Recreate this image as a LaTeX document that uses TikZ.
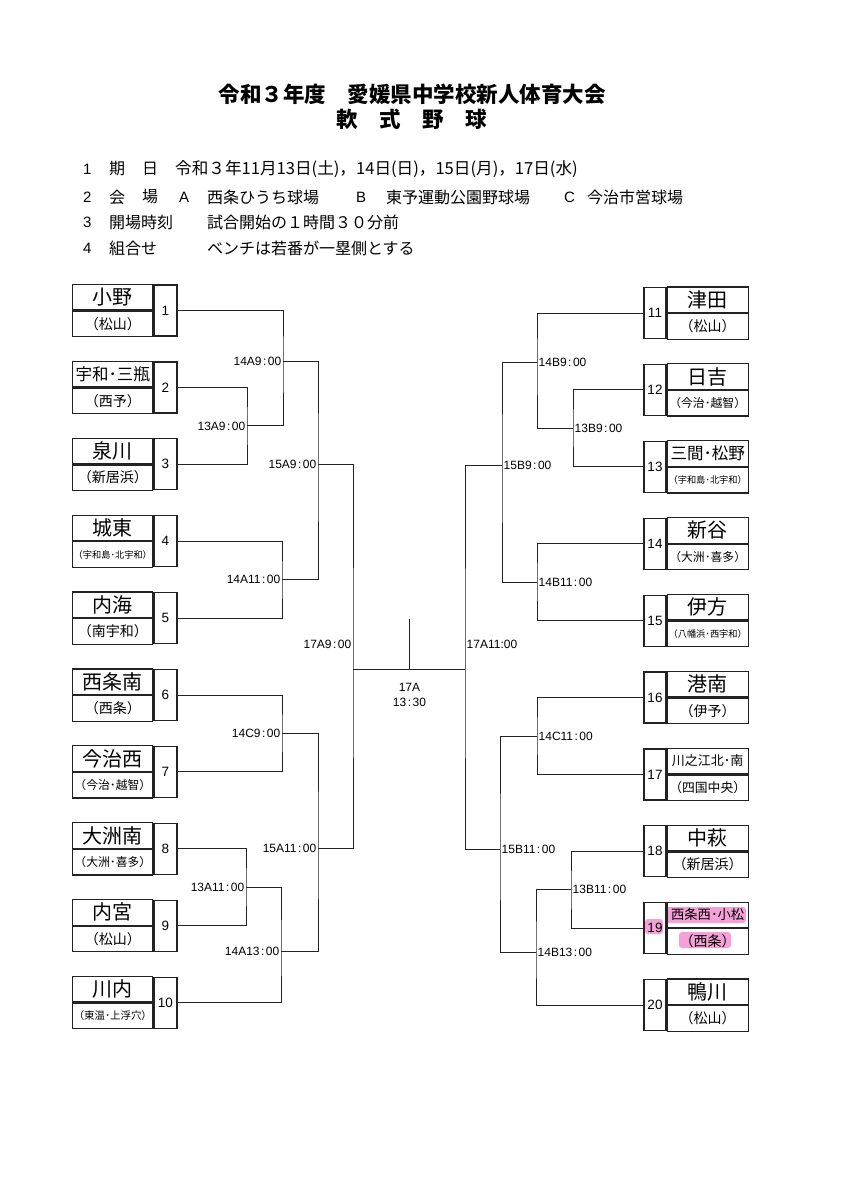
\documentclass[tikz,border=0pt]{standalone}
\usepackage{fontspec}
\setmainfont{Noto Sans CJK JP}
\newfontfamily\latin{Liberation Sans}
\usetikzlibrary{backgrounds}
\definecolor{ink}{RGB}{35,35,35}
\definecolor{marker}{RGB}{245,160,215}
\newcommand\fs[1]{\fontsize{#1}{#1}\selectfont}
\newcommand\clk{\hspace{1.5pt}:\hspace{1.5pt}}
\tikzset{
  numcell/.style={draw=ink,line width=1.2pt,minimum width=23pt,minimum height=51pt,
    inner sep=0pt,font=\latin\fs{13.5}},
  namecell/.style={draw=ink,line width=1.2pt,minimum width=80pt,minimum height=25.5pt,
    inner sep=0pt,font=\fs{20}},
  subcell/.style={namecell,font=\fs{14}},
  wire/.style={draw=ink,line width=1pt},
  tagL/.style={anchor=east,inner sep=1.5pt,font=\latin\fs{12}},
  tagR/.style={anchor=west,inner sep=1.5pt,font=\latin\fs{12}},
  head/.style={anchor=west,inner sep=0pt,font=\fs{16}},
  headnum/.style={head,font=\latin\fs{15}},
}
\begin{document}
\begin{tikzpicture}[x=1pt,y=-1pt]
  \useasboundingbox (0,0) rectangle (848,1200);

  % title
  \node[font=\bfseries\fs{21.5}] (title) at (412,94) {令和３年度　愛媛県中学校新人体育大会};
  \node[font=\bfseries\fs{21.5}] (sport) at (412,119) {軟　式　野　球};

  % outline of the meet
  \node[headnum] (h1) at (83,169) {1};
  \node[head] (h1a) at (109,169) {期};
  \node[head] (h1b) at (142,169) {日};
  \node[head,font=\fs{16.6}] (h1c) at (175,169) {令和３年11月13日(土)，14日(日)，15日(月)，17日(水)};
  \node[headnum] (h2) at (83,197) {2};
  \node[head] (h2a) at (109,197) {会};
  \node[head] (h2b) at (142,197) {場};
  \node[headnum] (h2c) at (179,197) {A};
  \node[head] (h2d) at (207,197) {西条ひうち球場};
  \node[headnum] (h2e) at (356,197) {B};
  \node[head] (h2f) at (386,197) {東予運動公園野球場};
  \node[headnum] (h2g) at (564,197) {C};
  \node[head] (h2h) at (587,197) {今治市営球場};
  \node[headnum] (h3) at (83,222) {3};
  \node[head] (h3a) at (109,222) {開場時刻};
  \node[head] (h3b) at (207,222) {試合開始の１時間３０分前};
  \node[headnum] (h4) at (83,248) {4};
  \node[head] (h4a) at (109,248) {組合せ};
  \node[head] (h4b) at (207,248) {ベンチは若番が一塁側とする};

  % teams, left half
  \foreach \i/\nm/\sb in {1/小野/（松山）,2/{\fs{16.5}宇和･三瓶}/（西予）,3/泉川/（新居浜）,
      4/城東/{\fs{9.2}（宇和島･北宇和）},5/内海/（南宇和）,6/西条南/（西条）,
      7/今治西/{\fs{11.8}（今治･越智）},8/大洲南/{\fs{11.8}（大洲･喜多）},
      9/内宮/（松山）,10/川内/{\fs{10.4}（東温･上浮穴）}} {
    \node[numcell] (n\i) at (165.5,{310.5+76.9*(\i-1)}) {\i};
    \node[namecell,anchor=south east] (nm\i) at (n\i.west) {\nm};
    \node[subcell,anchor=north east] (sb\i) at (n\i.west) {\sb};
  }

  % teams, right half
  \foreach \i/\nm/\sb in {11/津田/（松山）,12/日吉/{\fs{11.8}（今治･越智）},
      13/{\fs{16.5}三間･松野}/{\fs{9.2}（宇和島･北宇和）},14/新谷/{\fs{11.8}（大洲･喜多）},
      15/伊方/{\fs{9.2}（八幡浜･西宇和）},16/港南/（伊予）,
      17/{\fs{13}川之江北･南}/{\fs{12.8}（四国中央）},18/中萩/（新居浜）,
      19/{\fs{13.3}西条西･小松}/（西条）,20/鴨川/（松山）} {
    \node[numcell,minimum width=22pt] (n\i) at (655,{313+76.9*(\i-11)}) {\i};
    \node[namecell,minimum width=81pt,anchor=south west] (nm\i) at (n\i.east) {\nm};
    \node[subcell,minimum width=81pt,anchor=north west] (sb\i) at (n\i.east) {\sb};
  }

  % marker pen on team 19
  \begin{scope}[on background layer]
    \fill[marker,rounded corners=3pt] (645,919) rectangle (663,934);
    \fill[marker,rounded corners=3pt] (665,907) rectangle (746,923);
    \fill[marker,rounded corners=3pt] (679,932) rectangle (731,948);
  \end{scope}

  % junctions
  \coordinate (a13A9) at (247,425.9);
  \coordinate (a13A11) at (246,887.2);
  \coordinate (a14A9) at (283,361);
  \coordinate (a14A11) at (282,579.7);
  \coordinate (a14C9) at (282,733.5);
  \coordinate (a14A13) at (281,951);
  \coordinate (a15A9) at (318,464.3);
  \coordinate (a15A11) at (318,848.3);
  \coordinate (a17L) at (353,669.3);
  \coordinate (b13B9) at (573,428.4);
  \coordinate (b14B9) at (537,362.7);
  \coordinate (b14B11) at (537,582.2);
  \coordinate (b15B9) at (502,465);
  \coordinate (b14C11) at (537,736);
  \coordinate (b13B11) at (571,889.8);
  \coordinate (b14B13) at (536,952.3);
  \coordinate (b15B11) at (500,849.3);
  \coordinate (b17R) at (465,669.3);
  \coordinate (top17) at (409.3,619.3);

  % left bracket
  \draw[wire] (n2.east) -| (a13A9) |- (n3.east);
  \draw[wire] (n8.east) -| (a13A11) |- (n9.east);
  \draw[wire] (n4.east) -| (a14A11) |- (n5.east);
  \draw[wire] (n6.east) -| (a14C9) |- (n7.east);
  \draw[wire] (n1.east) -| (a14A9) |- (a13A9);
  \draw[wire] (a13A11) -| (a14A13) |- (n10.east);
  \draw[wire] (a14A9) -| (a15A9) |- (a14A11);
  \draw[wire] (a14C9) -| (a15A11) |- (a14A13);
  \draw[wire] (a15A9) -| (a17L) |- (a15A11);

  % right bracket
  \draw[wire] (n12.west) -| (b13B9) |- (n13.west);
  \draw[wire] (n14.west) -| (b14B11) |- (n15.west);
  \draw[wire] (n16.west) -| (b14C11) |- (n17.west);
  \draw[wire] (n18.west) -| (b13B11) |- (n19.west);
  \draw[wire] (n11.west) -| (b14B9) |- (b13B9);
  \draw[wire] (b13B11) -| (b14B13) |- (n20.west);
  \draw[wire] (b14B9) -| (b15B9) |- (b14B11);
  \draw[wire] (b14C11) -| (b15B11) |- (b14B13);
  \draw[wire] (b15B9) -| (b17R) |- (b15B11);

  % final
  \draw[wire] (a17L) -- (b17R);
  \draw[wire] (top17) -- (top17 |- a17L);

  % game times
  \node[tagL] (g13A9) at (a13A9) {13A9\clk00};
  \node[tagL] (g13A11) at (a13A11) {13A11\clk00};
  \node[tagL] (g14A9) at (a14A9) {14A9\clk00};
  \node[tagL] (g14A11) at (a14A11) {14A11\clk00};
  \node[tagL] (g14C9) at (a14C9) {14C9\clk00};
  \node[tagL] (g14A13) at (a14A13) {14A13\clk00};
  \node[tagL] (g15A9) at (a15A9) {15A9\clk00};
  \node[tagL] (g15A11) at (a15A11) {15A11\clk00};
  \node[tagL] (g17A9) at (353,644) {17A9\clk00};
  \node[tagR] (g13B9) at (b13B9) {13B9\clk00};
  \node[tagR] (g14B9) at (b14B9) {14B9\clk00};
  \node[tagR] (g14B11) at (b14B11) {14B11\clk00};
  \node[tagR] (g15B9) at (b15B9) {15B9\clk00};
  \node[tagR] (g14C11) at (b14C11) {14C11\clk00};
  \node[tagR] (g13B11) at (b13B11) {13B11\clk00};
  \node[tagR] (g14B13) at (b14B13) {14B13\clk00};
  \node[tagR] (g15B11) at (b15B11) {15B11\clk00};
  \node[tagR] (g17A11) at (465,644) {17A11:00};
  \node[font=\latin\fontsize{12}{15}\selectfont,align=center] (g17A) at (409.5,695) {17A\\13\clk30};
\end{tikzpicture}
\end{document}
